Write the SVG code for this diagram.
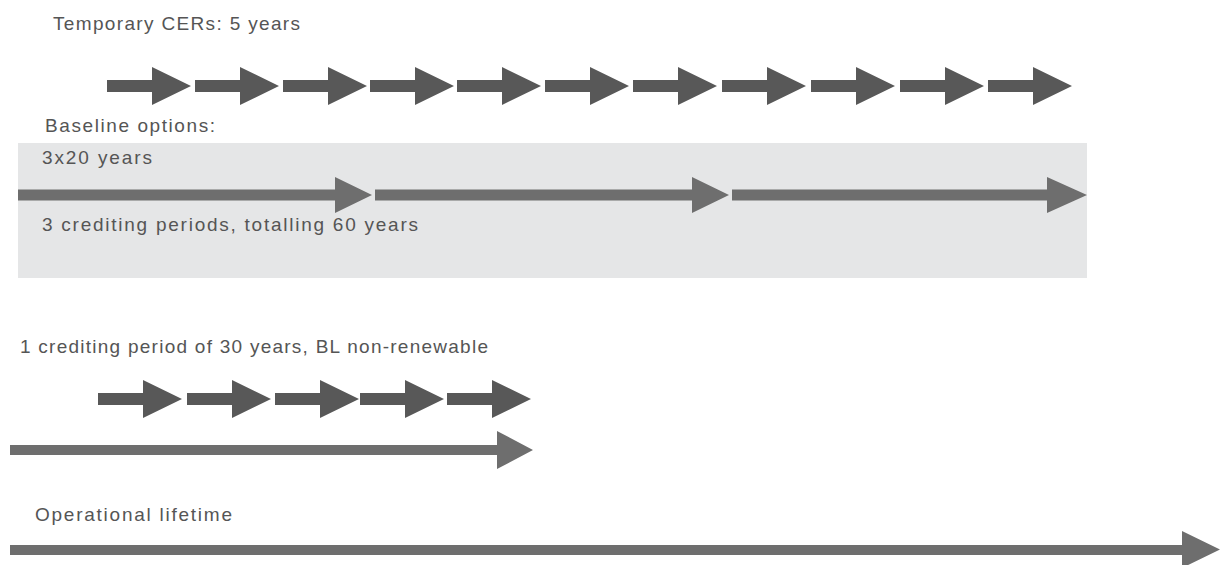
<svg xmlns="http://www.w3.org/2000/svg" xmlns:xlink="http://www.w3.org/1999/xlink" width="1221" height="565" viewBox="0 0 1221 565">
  <style>
    .lbl { font-family: "Liberation Sans", Arial, sans-serif; font-size: 19px; fill: #555; }
    .step { fill: #585858; }
    .span { fill: #6e6e6e; }
    .panel { fill: #e5e6e7; }
  </style>
  <defs>
    <!-- one 5-year step: short shaft plus wide head, origin at shaft start / centre line -->
    <path id="step5" d="M0,-6 H45 V-19 L84,0 L45,19 V6 H0 Z"/>
  </defs>

  <rect width="1221" height="565" fill="#fff"/>

  <g id="baseline-panel">
    <rect class="panel" x="18" y="143" width="1069" height="135"/>
  </g>

  <g id="label-temporary">
    <text class="lbl" x="53" y="30" textLength="247" lengthAdjust="spacing">Temporary CERs: 5 years</text>
  </g>
  <g id="label-baseline-options">
    <text class="lbl" x="45" y="132" textLength="170" lengthAdjust="spacing">Baseline options:</text>
  </g>
  <g id="label-3x20">
    <text class="lbl" x="42" y="164" textLength="110" lengthAdjust="spacing">3x20 years</text>
  </g>
  <g id="label-3-periods">
    <text class="lbl" x="42" y="231" textLength="376" lengthAdjust="spacing">3 crediting periods, totalling 60 years</text>
  </g>
  <g id="label-1-period">
    <text class="lbl" x="20" y="353" textLength="468" lengthAdjust="spacing">1 crediting period of 30 years, BL non-renewable</text>
  </g>
  <g id="label-lifetime">
    <text class="lbl" x="35" y="521" textLength="197" lengthAdjust="spacing">Operational lifetime</text>
  </g>

  <g id="connectors">
    <!-- temporary CER steps, 5 years each -->
    <g class="step">
      <use xlink:href="#step5" x="107" y="86"/>
      <use xlink:href="#step5" x="195" y="86"/>
      <use xlink:href="#step5" x="283" y="86"/>
      <use xlink:href="#step5" x="370" y="86"/>
      <use xlink:href="#step5" x="457" y="86"/>
      <use xlink:href="#step5" x="545" y="86"/>
      <use xlink:href="#step5" x="633" y="86"/>
      <use xlink:href="#step5" x="722" y="86"/>
      <use xlink:href="#step5" x="811" y="86"/>
      <use xlink:href="#step5" x="900" y="86"/>
      <use xlink:href="#step5" x="988" y="86"/>
    </g>

    <!-- three 20-year crediting periods -->
    <g class="span">
      <path d="M18,189.5 H335 V177 L372,195 L335,213 V200.5 H18 Z"/>
      <path d="M375,189.5 H692 V177 L729,195 L692,213 V200.5 H375 Z"/>
      <path d="M732,189.5 H1047 V177 L1087,195 L1047,213 V200.5 H732 Z"/>
    </g>

    <!-- single 30-year period split into 5-year steps -->
    <g class="step">
      <use xlink:href="#step5" x="98" y="399"/>
      <use xlink:href="#step5" x="187" y="399"/>
      <use xlink:href="#step5" x="275" y="399"/>
      <use xlink:href="#step5" x="360" y="399"/>
      <use xlink:href="#step5" x="447" y="399"/>
    </g>
    <path class="span" d="M10,445 H497 V431 L533,450 L497,469 V455 H10 Z"/>

    <!-- operational lifetime -->
    <path class="span" d="M10,545 H1182 V531 L1220,549.5 L1182,568 V555 H10 Z"/>
  </g>
</svg>
